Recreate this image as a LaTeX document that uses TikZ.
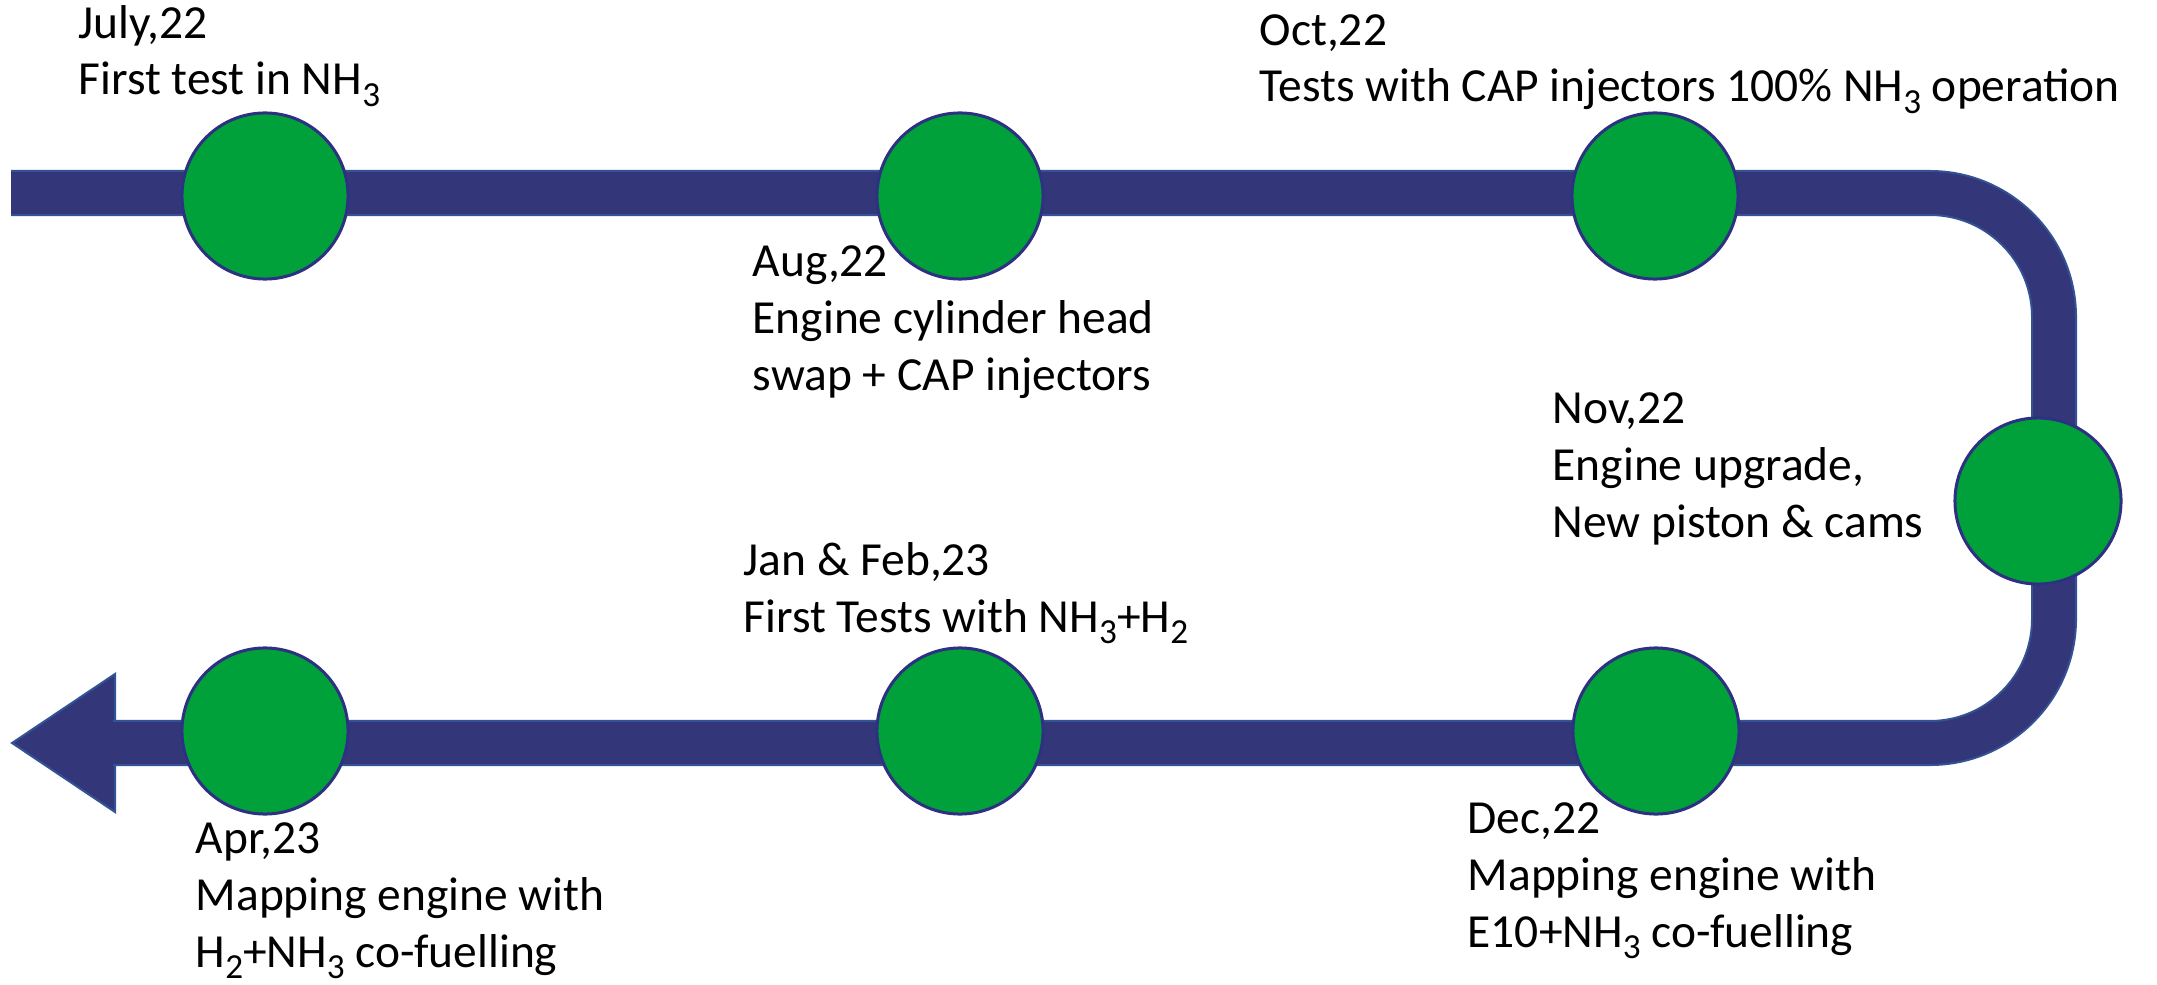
\documentclass[tikz,border=0pt]{standalone}
\usepackage{fontspec}
\setmainfont{Carlito}
\definecolor{bandfill}{RGB}{51,55,122}
\definecolor{bandline}{RGB}{50,84,150}
\definecolor{dotfill}{RGB}{0,160,58}
\definecolor{dotline}{RGB}{46,49,130}
\newcommand{\subsc}[1]{\raisebox{-0.24em}{\fontsize{10}{10}\selectfont #1}}
\begin{document}
\begin{tikzpicture}[x=0.01cm,y=-0.01cm,
  dot/.style={circle,fill=dotfill,draw=dotline,line width=0.03cm,minimum size=1.66cm,inner sep=0pt},
  lbl/.style={anchor=base west,align=left,inner sep=0pt,font=\fontsize{13.5}{16.2}\selectfont},
  band/.style={draw=bandline,line width=0.02cm,double=bandfill,double distance=0.42cm,rounded corners=1.24cm}]
\useasboundingbox (0,0) rectangle (2157,985);
\coordinate (start) at (11,193);
\coordinate (tr) at (2054,193);
\coordinate (br) at (2054,743);
\coordinate (hb) at (113,743);
\coordinate (tip) at (12,743);
\coordinate (hu) at (115,674);
\coordinate (hl) at (115,812);
\fill[bandfill,draw=bandline,line width=0.02cm] (hu) -- (tip) -- (hl) -- cycle;
\draw[band] (start) -- (tr) -- (br) -- (hb);
\node[dot] (c1) at (265,196) {};
\node[dot] (c2) at (960,196) {};
\node[dot] (c3) at (1655,196) {};
\node[dot] (c4) at (2038,501) {};
\node[dot] (c5) at (1656,731) {};
\node[dot] (c6) at (960,731) {};
\node[dot] (c7) at (265,731) {};
\node[lbl] (t1) at (78,95) {July,22\\First test in NH\subsc{3}};
\node[lbl] (t2) at (752,390) {Aug,22\\Engine cylinder head\\swap + CAP injectors};
\node[lbl] (t3) at (1259,102) {Oct,22\\Tests with CAP injectors 100\% NH\subsc{3} operation};
\node[lbl] (t4) at (1552,537) {Nov,22\\Engine upgrade,\\New piston \& cams};
\node[lbl] (t5) at (1467,947) {Dec,22\\Mapping engine with\\E10+NH\subsc{3} co-fuelling};
\node[lbl] (t6) at (743,632) {Jan \& Feb,23\\First Tests with NH\subsc{3}+H\subsc{2}};
\node[lbl] (t7) at (195,967) {Apr,23\\Mapping engine with\\H\subsc{2}+NH\subsc{3} co-fuelling};
\end{tikzpicture}
\end{document}
